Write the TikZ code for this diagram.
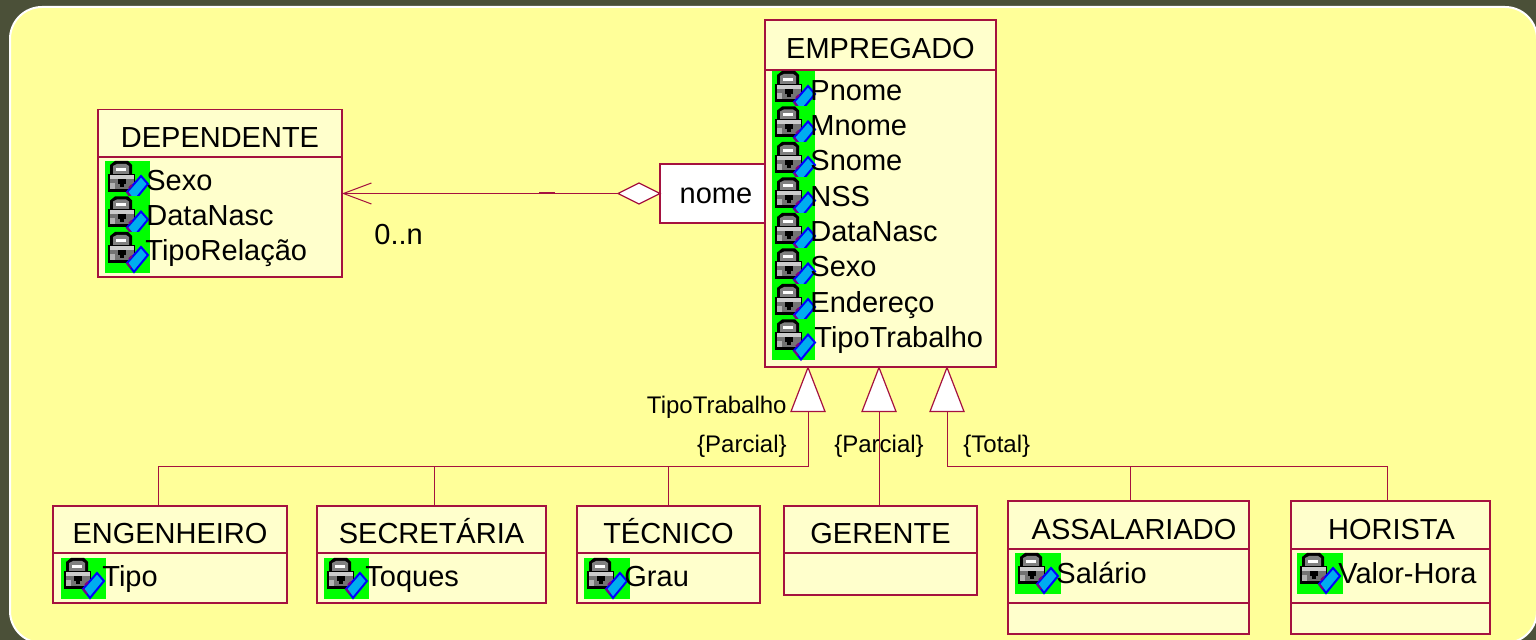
\documentclass[tikz,border=0pt]{standalone}
\usepackage{fontspec}
\setmainfont{Liberation Sans}
\usetikzlibrary{arrows.meta}
\usetikzlibrary{shapes.geometric}
\definecolor{slide}{HTML}{4B5038}
\definecolor{panel}{HTML}{FFFF99}
\definecolor{classfill}{HTML}{FFFFCC}
\definecolor{umlline}{HTML}{A5123F}
\tikzset{classbox/.style = {draw = umlline, fill = classfill, line width = 0.7pt, rectangle, inner sep = 0, outer sep = 0, anchor = north west, text height = 14pt, text depth = 0pt, font = \fontsize{14.5}{17}\selectfont}}
\tikzset{attr/.style = {anchor = base west, inner sep = 0, font = \fontsize{14.5}{17}\selectfont}}
\tikzset{note/.style = {inner sep = 0, anchor = base, font = \fontsize{12}{14}\selectfont}}
\tikzset{umlconn/.style = {draw = umlline, line width = 0.5pt}}
\tikzset{gentri/.style = {draw = umlline, fill = white, line width = 0.6pt, isosceles triangle, isosceles triangle stretches, shape border rotate = 90, minimum width = 17pt, minimum height = 22pt, inner sep = 0, outer sep = 0, anchor = apex}}
\tikzset{whole/.style = {draw = umlline, fill = white, line width = 0.6pt, diamond, aspect = 2, minimum width = 21pt, minimum height = 10.5pt, inner sep = 0, outer sep = 0, anchor = east}}
\tikzset{pics/lockicon/.style = {code = {
      \fill [green] (0, 0) rectangle (#1, 41);
      \fill [black] (5, 13) -- (5, 4) -- (10, 0) -- (23, 0) -- (27, 4) -- (27, 13) -- cycle;
      \fill [gray] (8, 13) -- (8, 5) -- (12, 3) -- (21, 3) -- (24, 5) -- (24, 13) -- cycle;
      \fill [white] (11, 7) rectangle (21, 10);
      \fill [black] (3, 13) rectangle (30, 31);
      \fill [black!20] (5, 14) rectangle (29, 18);
      \fill [black!55] (5, 18) rectangle (29, 28);
      \fill [black!30] (5, 22) rectangle (10, 28);
      \fill [black] (13, 18) rectangle (21, 23);
      \fill [black] (15, 23) rectangle (19, 26);
      \draw [blue, fill = cyan, line width = 1pt] (36, 15) -- (43, 23) -- (29, 40) -- (22, 31) -- cycle;
      \draw [violet, line width = 1pt] (22, 31) -- (26, 36);
      \draw [violet, line width = 1pt] (24, 27) -- (27, 24);
    }}}
\begin{document}
\begin{tikzpicture}[x = 0.5pt, y = -0.5pt]
      \useasboundingbox (0, 0) rectangle (1536, 640);
      \fill [slide] (0, 0) rectangle (1536, 640);
      \begin{scope}
        \clip (0, 0) rectangle (1536, 640);
        \draw [white, fill = panel, line width = 1pt, rounded corners = 16pt] (10, 7) rectangle (1537, 643);
      \end{scope}

      \node [classbox, fill = white, text height = 10.5pt, minimum width = 52.5pt, minimum height = 29.5pt] (nome) at (660, 164) {\hspace*{3.5pt}nome};
      \node [classbox, minimum width = 115.5pt, minimum height = 25pt] (empregado) at (765, 20) {EMPREGADO};
      \node [classbox, minimum width = 115.5pt, minimum height = 148.5pt] (empregadobody) at (empregado.south west) {};
      \node [classbox, minimum width = 122pt, minimum height = 23.75pt] (dependente) at (98, 109.5) {DEPENDENTE};
      \node [classbox, minimum width = 122pt, minimum height = 60pt] (dependentebody) at (dependente.south west) {};
      \node [classbox, minimum width = 117pt, minimum height = 23.5pt] (engenheiro) at (53, 506) {ENGENHEIRO};
      \node [classbox, minimum width = 117pt, minimum height = 25pt] (engenheirobody) at (engenheiro.south west) {};
      \node [classbox, minimum width = 114.5pt, minimum height = 23.5pt] (secretaria) at (317, 506) {SECRETÁRIA};
      \node [classbox, minimum width = 114.5pt, minimum height = 25pt] (secretariabody) at (secretaria.south west) {};
      \node [classbox, minimum width = 91.5pt, minimum height = 23.5pt] (tecnico) at (577, 506) {TÉCNICO};
      \node [classbox, minimum width = 91.5pt, minimum height = 25pt] (tecnicobody) at (tecnico.south west) {};
      \node [classbox, minimum width = 96.5pt, minimum height = 23.5pt] (gerente) at (784, 506) {GERENTE};
      \node [classbox, minimum width = 96.5pt, minimum height = 21pt] (gerentebody) at (gerente.south west) {};
      \node [classbox, minimum width = 120.5pt, minimum height = 24pt] (assalariado) at (1008, 501) {\hspace*{5.5pt}ASSALARIADO};
      \node [classbox, minimum width = 120.5pt, minimum height = 27pt] (assalariadobody) at (assalariado.south west) {};
      \node [classbox, minimum width = 120.5pt, minimum height = 15.5pt] (assalariadoops) at (assalariadobody.south west) {};
      \node [classbox, minimum width = 99.5pt, minimum height = 24pt] (horista) at (1291, 501) {\hspace*{1pt}HORISTA};
      \node [classbox, minimum width = 99.5pt, minimum height = 27pt] (horistabody) at (horista.south west) {};
      \node [classbox, minimum width = 99.5pt, minimum height = 15.5pt] (horistaops) at (horistabody.south west) {};

      \foreach \row in {0, ..., 7}
        \pic at (772, 71 + 35.5 * \row) {lockicon = 43};
      \foreach \row in {0, 1, 2}
        \pic at (105, 161 + 35.5 * \row) {lockicon = 45};
      \pic at (61, 558) {lockicon = 45};
      \pic at (324, 558) {lockicon = 45};
      \pic at (584, 558) {lockicon = 46};
      \pic at (1015, 553) {lockicon = 46};
      \pic at (1297, 553) {lockicon = 46};

      \node [attr] (pnome) at (810, 101) {Pnome};
      \node [attr] (mnome) at (810, 136) {Mnome};
      \node [attr] (snome) at (810, 171) {Snome};
      \node [attr] (nss) at (810, 207) {NSS};
      \node [attr] (datanasc) at (810, 242) {DataNasc};
      \node [attr] (sexo) at (810, 277) {Sexo};
      \node [attr] (endereco) at (810, 313) {Endereço};
      \node [attr] (tipotrabalho) at (814, 348) {TipoTrabalho};
      \node [attr] (depsexo) at (146, 191) {Sexo};
      \node [attr] (depnasc) at (146, 226) {DataNasc};
      \node [attr] (deptipo) at (145, 261) {TipoRelação};
      \node [attr] (tipo) at (102, 587) {Tipo};
      \node [attr] (toques) at (365, 587) {Toques};
      \node [attr] (grau) at (624, 587) {Grau};
      \node [attr] (salario) at (1056, 583) {Salário};
      \node [attr] (valorhora) at (1338, 583) {Valor-Hora};

      \node [whole] (nomeend) at (nome.west) {};
      \draw [umlconn, -{Straight Barb[length = 14pt, width = 10.5pt]}] (nomeend.west) -- (dependentebody.east |- nomeend.west);
      \coordinate (thicka) at (539, 193.5);
      \coordinate (thickb) at (555, 193.5);
      \draw [umlconn, line width = 1pt] (thicka) -- (thickb);
      \node [attr] (mult) at (374, 245) {0..n};

      \node [gentri] (tritipo) at (808, 367.5) {};
      \node [gentri] (trigerente) at (879, 367.5) {};
      \node [gentri] (tritotal) at (947, 367.5) {};
      \coordinate (busleft) at (808, 467);
      \coordinate (busright) at (947, 467);
      \draw [umlconn] (tritipo.south) -- (busleft) -| ([xshift = -6pt]engenheiro.north);
      \draw [umlconn] (busleft) -| ([xshift = 1.25pt]secretaria.north);
      \draw [umlconn] (busleft) -| (tecnico.north);
      \draw [umlconn] (trigerente.south) -- (trigerente.south |- gerente.north);
      \draw [umlconn] (tritotal.south) -- (busright) -| ([xshift = 0.75pt]assalariado.north);
      \draw [umlconn] (busright) -| ([xshift = -1.75pt]horista.north);

      \node [note, anchor = base east] (tipolabel) at (787, 414) {TipoTrabalho};
      \node [note, anchor = base east] (parciala) at (787, 453) {\{Parcial\}};
      \node [note] (parcialb) at (879, 453) {\{Parcial\}};
      \node [note, anchor = base west] (total) at (963, 453) {\{Total\}};
    \end{tikzpicture}
\end{document}
